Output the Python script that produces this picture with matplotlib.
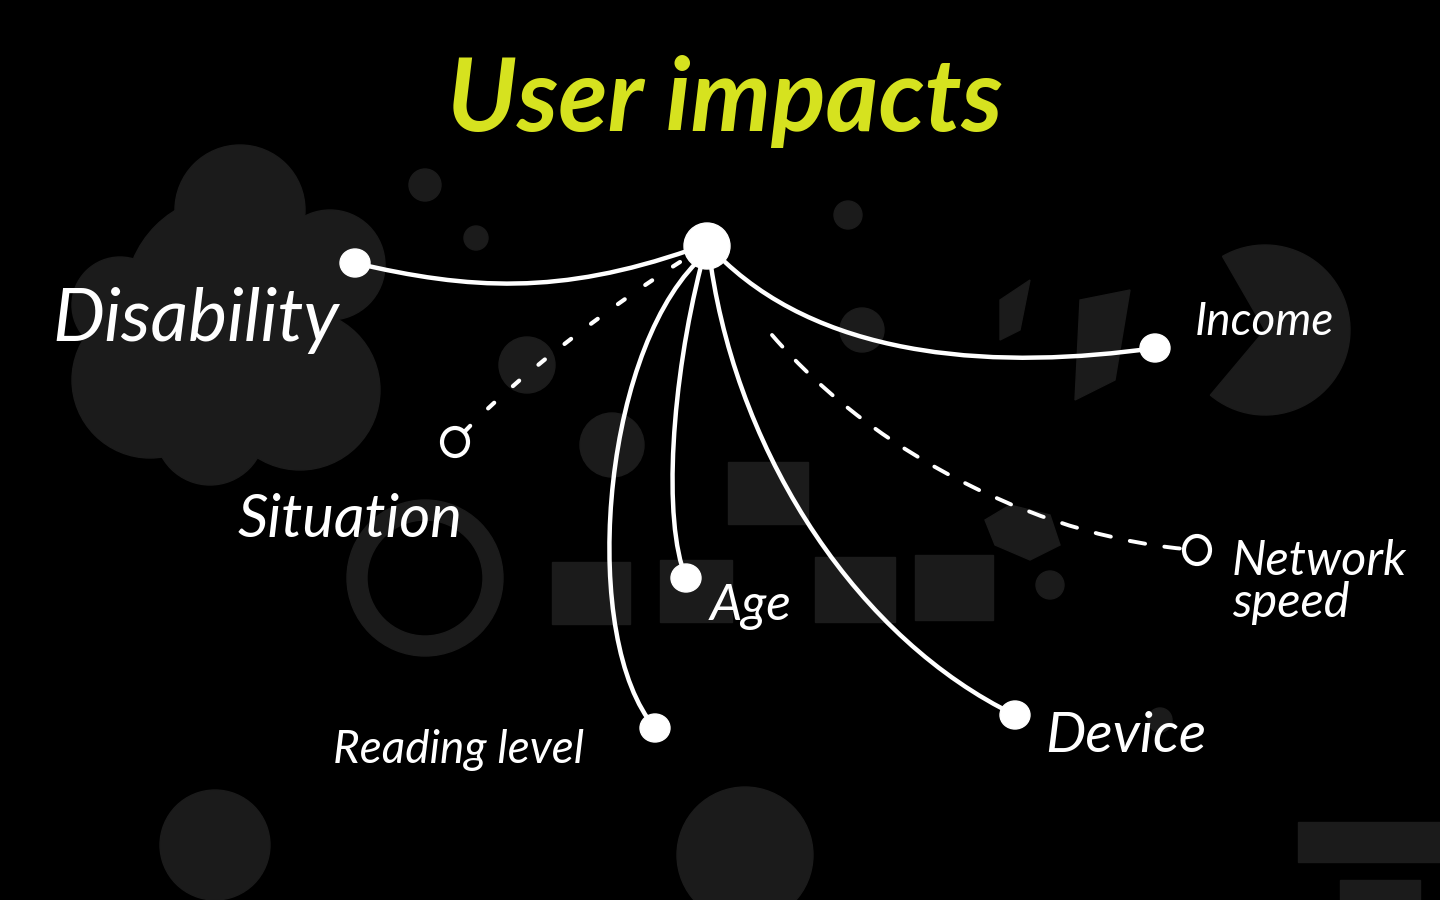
import numpy as np
import matplotlib.pyplot as plt
from matplotlib.path import Path
from matplotlib import patches

# hub and the things hanging off it (pixel coords, y down)
hub = (707, 246)
names = ['Disability', 'Situation', 'Reading level', 'Age', 'Device', 'Network\nspeed', 'Income']
ends = [(355, 263), (455, 442), (655, 728), (686, 578), (1015, 715), (1197, 550), (1155, 348)]
kinds = ['solid', 'dotted', 'solid', 'solid', 'solid', 'dashed', 'solid']
label_xy = [(52, 320), (238, 520), (333, 750), (710, 607), (1045, 737), (1232, 582), (1195, 322)]

# styling for each link: start offset on the hub and bezier controls
starts = [(690, 250), (680, 262), (697, 262), (701, 266), (711, 266), (772, 335), (725, 262)]
ctrl = [[(560, 295), (470, 290)],
        [(620, 300), (510, 380)],
        [(600, 360), (580, 640)],
        [(672, 380), (662, 520)],
        [(740, 460), (860, 640)],
        [(880, 460), (1050, 540)],
        [(830, 360), (1000, 370)]]
font_sizes = [53, 43, 33, 37, 41, 35, 33]

TITLE = 'User impacts'
TITLE_COLOR = '#d6e21f'
GREY = '#1b1b1b'

fig = plt.figure(figsize=(14.4, 9), dpi=100)
ax = fig.add_axes([0, 0, 1, 1])
ax.set_xlim(0, 1440)
ax.set_ylim(900, 0)
ax.axis('off')
fig.patch.set_facecolor('black')
ax.set_facecolor('black')

# ---- faint grunge shapes in the background
for cx, cy, r in [(230, 300, 105), (150, 380, 78), (300, 390, 80), (240, 210, 65),
                  (330, 265, 55), (120, 305, 48), (210, 430, 55)]:
    ax.add_patch(patches.Circle((cx, cy), r, color=GREY, zorder=0))
ax.add_patch(patches.Wedge((425, 578), 78, 0, 360, width=20, color=GREY, zorder=0))
for cx, cy, r in [(215, 845, 55), (745, 855, 68), (612, 445, 32), (527, 365, 28),
                  (862, 330, 22), (848, 215, 14), (476, 238, 12), (425, 185, 16),
                  (1050, 585, 14), (1160, 720, 12)]:
    ax.add_patch(patches.Circle((cx, cy), r, color=GREY, zorder=0))
ax.add_patch(patches.Wedge((1265, 330), 85, -120, 130, color=GREY, zorder=0))
for x0, y0, w, h in [(728, 462, 80, 62), (552, 562, 78, 62), (660, 560, 72, 62),
                     (815, 557, 80, 65), (915, 555, 78, 65), (1298, 822, 142, 40),
                     (1340, 880, 80, 20)]:
    ax.add_patch(patches.Rectangle((x0, y0), w, h, color=GREY, zorder=0))
for xs, ys in [([985, 1010, 1050, 1060, 1030, 995], [520, 505, 515, 545, 560, 545]),
               ([1000, 1030, 1020, 1000], [300, 280, 330, 340]),
               ([1080, 1130, 1115, 1075], [300, 290, 380, 400])]:
    ax.add_patch(patches.Polygon(np.column_stack([xs, ys]), color=GREY, zorder=0))

# ---- links
styles = {'solid': dict(linestyle='-', lw=3.2),
          'dotted': dict(linestyle=(0, (2, 6)), lw=3.0),
          'dashed': dict(linestyle=(0, (4, 5)), lw=2.8)}
for s, (c1, c2), e, k in zip(starts, ctrl, ends, kinds):
    p = Path([s, c1, c2, e], [Path.MOVETO, Path.CURVE4, Path.CURVE4, Path.CURVE4])
    ax.add_patch(patches.PathPatch(p, facecolor='none', edgecolor='white',
                                   capstyle='round', zorder=2, **styles[k]))

# ---- end points
for e, k in zip(ends, kinds):
    if k == 'solid':
        ax.add_patch(patches.Ellipse(e, 30, 28, color='white', zorder=3))
    else:
        ax.add_patch(patches.Ellipse(e, 26, 28, facecolor='black', edgecolor='white',
                                     lw=3, zorder=3))
ax.add_patch(patches.Circle(hub, 23, color='white', zorder=4))

# ---- labels
for name, (x, y), fs in zip(names, label_xy, font_sizes):
    ax.text(x, y, name, color='white', fontsize=fs, family='Lato', style='italic',
            ha='left', va='center', linespacing=0.95, zorder=5)

ax.text(725, 102, TITLE, color=TITLE_COLOR, fontsize=73, family='Lato',
        style='italic', weight='bold', ha='center', va='center', zorder=5)

fig.savefig('out.png', dpi=100, facecolor='black')
